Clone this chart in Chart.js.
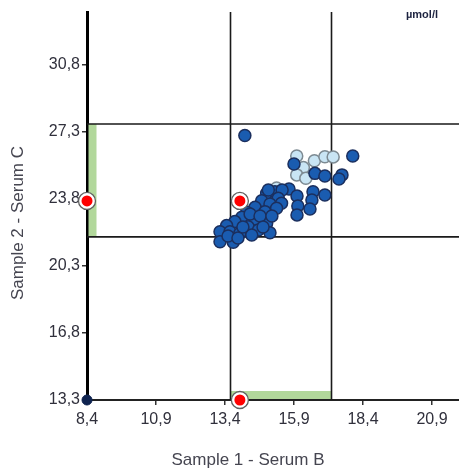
<!DOCTYPE html>
<html><head><meta charset="utf-8">
<script src="https://cdn.jsdelivr.net/npm/chart.js@4/dist/chart.umd.min.js"></script>
<style>html,body{margin:0;padding:0;background:#fff}</style>
</head><body>
<canvas id="c" width="459" height="472"></canvas>
<script>
// ---- data ----
const xTicks = [8.4, 10.9, 13.4, 15.9, 18.4, 20.9];
const yTicks = [13.3, 16.8, 20.3, 23.8, 27.3, 30.8];
const xRange = [8.4, 21.88];
const yRange = [13.3, 33.57];
const xLimits = [13.6, 17.26];
const yLimits = [21.82, 27.72];
const target = [13.94, 23.70];
const origin = [8.4, 13.3];

const darkX = [14.12, 15.90, 18.03, 16.66, 17.02, 17.64, 17.53,
  15.72, 16.01, 16.59, 17.02, 16.55, 16.04, 16.48, 16.01,
  14.91, 15.21, 15.47, 14.97, 15.33, 14.73, 15.03, 15.45, 14.49, 15.27,
  14.85, 14.19, 14.01, 14.49, 14.91, 13.76, 13.46, 14.24, 14.61, 13.22,
  13.58, 13.94, 14.37, 15.03, 13.22, 13.70, 14.31, 14.67, 15.10, 14.05,
  13.51, 13.87, 14.78];
const darkY = [27.12, 25.63, 26.05, 25.14, 25.00, 25.06, 24.85,
  24.32, 23.96, 24.18, 24.01, 23.75, 23.44, 23.28, 22.97,
  24.10, 24.18, 24.27, 24.27, 23.84, 23.71, 23.54, 23.58, 23.37, 23.32,
  23.14, 23.11, 22.85, 22.76, 22.53, 22.62, 22.41, 22.35, 22.18, 22.09,
  22.09, 22.01, 21.92, 22.04, 21.57, 21.54, 23.02, 22.91, 22.91, 22.34,
  21.87, 21.76, 22.34];
const lightX = [16.00, 16.64, 17.02, 17.32, 16.24, 16.00, 16.33, 15.27];
const lightY = [26.05, 25.80, 26.01, 26.00, 25.44, 25.06, 24.88, 24.38];

const xTitle = 'Sample 1 - Serum B';
const yTitle = 'Sample 2 - Serum C';
const unitLabel = 'µmol/l';

const pts = (xs, ys) => xs.map((x, i) => ({x: x, y: ys[i]}));
const fmt = v => Number(v).toFixed(1).replace('.', ',');
const FONT = "'Liberation Sans', Arial, sans-serif";

const refPlugin = {
  id: 'refs',
  beforeDatasetsDraw(chart) {
    const {ctx, chartArea: a, scales: {x, y}} = chart;
    ctx.save();
    // green bands
    ctx.fillStyle = '#b2d89b';
    const yt = y.getPixelForValue(yLimits[1]), yb = y.getPixelForValue(yLimits[0]);
    ctx.fillRect(a.left + 1.5, yt, 8, yb - yt);
    const xl = x.getPixelForValue(xLimits[0]), xr = x.getPixelForValue(xLimits[1]);
    ctx.fillRect(xl, a.bottom - 9, xr - xl, 8);
    // limit lines
    ctx.strokeStyle = '#1a1a1a';
    ctx.lineWidth = 1.6;
    ctx.beginPath();
    yLimits.forEach(v => { const p = y.getPixelForValue(v); ctx.moveTo(a.left, p); ctx.lineTo(a.right, p); });
    xLimits.forEach(v => { const p = x.getPixelForValue(v); ctx.moveTo(p, a.top); ctx.lineTo(p, a.bottom); });
    ctx.stroke();
    ctx.restore();
  },
  afterDraw(chart) {
    const {ctx} = chart;
    ctx.save();
    ctx.fillStyle = '#454550';
    ctx.font = '17px ' + FONT;
    ctx.textAlign = 'center';
    ctx.textBaseline = 'middle';
    ctx.fillText(xTitle, 248, 460);
    ctx.translate(18, 223);
    ctx.rotate(-Math.PI / 2);
    ctx.fillText(yTitle, 0, 0);
    ctx.restore();
    ctx.save();
    ctx.fillStyle = '#1d2340';
    ctx.font = 'bold 11px ' + FONT;
    ctx.textAlign = 'right';
    ctx.textBaseline = 'middle';
    ctx.fillText(unitLabel, 438, 15);
    ctx.restore();
  }
};

new Chart(document.getElementById('c'), {
  type: 'scatter',
  data: {
    datasets: [
      {data: [{x: target[0], y: target[1]}, {x: xRange[0], y: target[1]}, {x: target[0], y: yRange[0]}],
       pointRadius: 5.5, backgroundColor: '#ff0000', borderColor: '#e00000', borderWidth: 0, order: 0, clip: false},
      {data: [{x: target[0], y: target[1]}, {x: xRange[0], y: target[1]}, {x: target[0], y: yRange[0]}],
       pointRadius: 8.5, backgroundColor: '#ffffff', borderColor: '#606060', borderWidth: 1.3, order: 1, clip: false},
      {data: [{x: origin[0], y: origin[1]}], pointRadius: 5, backgroundColor: '#0f2350', borderColor: '#0f2350',
       borderWidth: 1, order: 2, clip: false},
      {data: pts(darkX, darkY), pointRadius: 6, backgroundColor: '#1a5cb0', borderColor: '#1b2f5e',
       borderWidth: 1.5, order: 3, clip: false},
      {data: pts(lightX, lightY), pointRadius: 6, backgroundColor: '#c9e5f4', borderColor: '#7d8a92',
       borderWidth: 1.5, order: 4, clip: false}
    ]
  },
  options: {
    responsive: false,
    animation: false,
    events: [],
    devicePixelRatio: 1,
    layout: {autoPadding: false, padding: {top: 12, right: 0, left: 0, bottom: 0}},
    plugins: {legend: {display: false}, tooltip: {enabled: false}},
    scales: {
      x: {
        type: 'linear', min: xRange[0], max: xRange[1],
        afterBuildTicks: s => { s.ticks = xTicks.map(v => ({value: v})); },
        afterFit: s => { s.height = 72; s.paddingLeft = 0; s.paddingRight = 0; },
        ticks: {callback: v => fmt(v), color: '#30303c', font: {family: FONT, size: 16}, padding: 5,
                autoSkip: false, maxRotation: 0},
        grid: {drawOnChartArea: false, drawTicks: true, tickLength: 5, color: '#333', lineWidth: 1.5},
        border: {display: true, color: '#222', width: 2}
      },
      y: {
        type: 'linear', min: yRange[0], max: yRange[1],
        afterBuildTicks: s => { s.ticks = yTicks.map(v => ({value: v})); },
        afterFit: s => { s.width = 87; s.paddingTop = 0; s.paddingBottom = 0; },
        ticks: {callback: v => fmt(v), color: '#30303c', font: {family: FONT, size: 16}, padding: 2,
                autoSkip: false},
        grid: {drawOnChartArea: false, drawTicks: true, tickLength: 5, color: '#333', lineWidth: 1.5},
        border: {display: true, color: '#000', width: 3}
      }
    }
  },
  plugins: [refPlugin]
});
</script>
</body></html>
